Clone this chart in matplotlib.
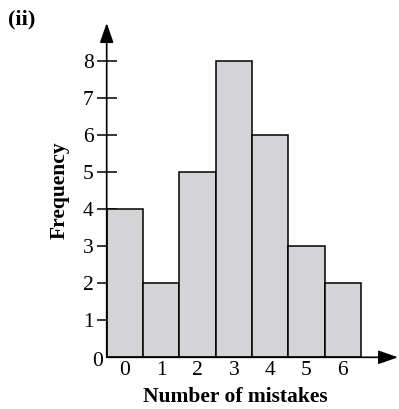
import numpy as np
import matplotlib
matplotlib.use("Agg")
import matplotlib.pyplot as plt

# data
mistakes = [0, 1, 2, 3, 4, 5, 6]
frequency = [4, 2, 5, 8, 6, 3, 2]
y_ticks = [1, 2, 3, 4, 5, 6, 7, 8]

plt.rcParams['font.family'] = ['Liberation Serif', 'DejaVu Serif']

W, H = 399, 409
fig = plt.figure(figsize=(W / 100, H / 100), dpi=100)

# axes box: left edge = y axis, bottom edge = x axis (pixel positions from the reference)
x0, x1 = 106.7, 398.0
y0, y1 = 357.3, 23.0
ax = fig.add_axes([x0 / W, (H - y0) / H, (x1 - x0) / W, (y0 - y1) / H])
ax.set_xlim(-0.5, -0.5 + (x1 - x0) / 36.3)
ax.set_ylim(0, (y0 - y1) / 37.1)

ax.bar(mistakes, frequency, width=1.0, color='#d4d4d6', edgecolor='black', linewidth=1.1, zorder=2)

for s in ['top', 'right', 'left', 'bottom']:
    ax.spines[s].set_visible(False)

# axis lines with arrow heads
arrow = dict(arrowstyle='-|>,head_length=1.2,head_width=0.42', color='black', lw=1.2,
             shrinkA=0, shrinkB=0)
ax.annotate('', xy=(1, 0), xytext=(0, 0), xycoords='axes fraction', arrowprops=arrow, zorder=3)
ax.annotate('', xy=(0, 1), xytext=(0, 0), xycoords='axes fraction', arrowprops=arrow, zorder=3)

ax.set_yticks(y_ticks)
ax.set_yticklabels([str(v) for v in y_ticks])
ax.tick_params(axis='y', direction='inout', length=14.5, width=1.1, pad=2, labelsize=15.5)
ax.set_xticks(mistakes)
ax.set_xticklabels([str(v) for v in mistakes])
ax.tick_params(axis='x', length=0, pad=3, labelsize=15.5)

# origin label
fig.text(97.5 / W, 1 - 361.5 / H, '0', fontsize=15.5, ha='center', va='center')

fig.text(235 / W, 1 - 402 / H, 'Number of mistakes', fontsize=15.5, fontweight='bold',
         ha='center', va='baseline')
fig.text(60 / W, 1 - 190 / H, 'Frequency', fontsize=15.5, fontweight='bold',
         ha='center', va='center', rotation=90)
fig.text(22 / W, 1 - 19 / H, '(ii)', fontsize=16, fontweight='bold', ha='center', va='center')

fig.savefig('out.png', dpi=100)
